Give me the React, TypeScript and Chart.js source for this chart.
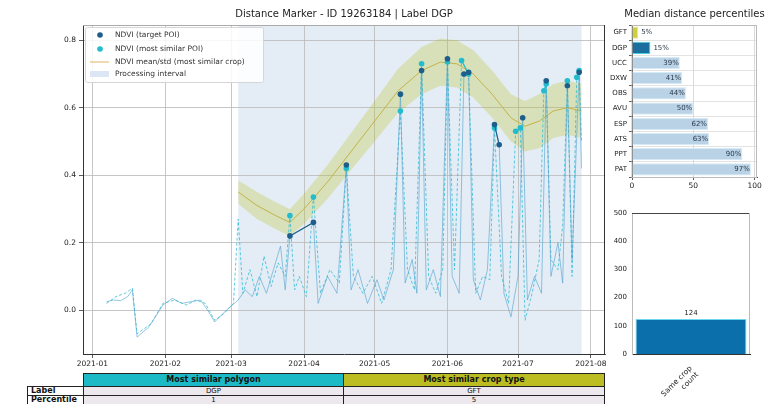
import React, { useEffect, useRef } from "react";
import { Chart, registerables } from "chart.js";

Chart.register(...registerables);

const FONT = "'DejaVu Sans', sans-serif";
Chart.defaults.font.family = FONT;

// ---------- main chart data (x = day of year 2021, 0 = Jan 1) ----------
const monthTickDays = [0, 31, 59, 90, 120, 151, 181, 212];
const monthTickLabels = ["2021-01", "2021-02", "2021-03", "2021-04", "2021-05", "2021-06", "2021-07", "2021-08"];
const yTickValues = [0, 0.2, 0.4, 0.6, 0.8];
const intervalStart = 62;
const intervalEnd = 208;

const targetDays = [6, 9, 12, 15, 17, 19, 24, 30, 34, 38, 42, 46, 49, 52, 57, 62, 65, 68, 71, 74, 77, 80, 82, 84, 94, 96, 100, 104, 108, 110, 113, 117, 121, 124, 128, 131, 133, 136, 138, 140, 142, 145, 148, 151, 153, 156, 158, 160, 162, 165, 168, 171, 173, 175, 178, 181, 183, 185, 188, 191, 193, 195, 198, 200, 202, 204, 207, 208];
const targetValues = [0.025, 0.03, 0.028, 0.04, 0.06, -0.08, -0.05, 0.015, 0.035, 0.02, 0.025, 0.03, 0.0, -0.035, 0.0, 0.03, 0.06, 0.04, 0.1, 0.05, 0.12, 0.19, 0.06, 0.22, 0.26, 0.02, 0.1, 0.05, 0.43, 0.06, 0.12, 0.02, 0.09, 0.03, 0.12, 0.64, 0.08, 0.15, 0.05, 0.71, 0.06, 0.12, 0.04, 0.745, 0.1, 0.05, 0.7, 0.705, 0.09, 0.03, 0.12, 0.55, 0.49, 0.05, -0.02, 0.1, 0.57, 0.03, 0.1, 0.05, 0.68, 0.1, 0.2, 0.08, 0.665, 0.15, 0.705, 0.42];
const targetValid = [0, 0, 0, 0, 0, 0, 0, 0, 0, 0, 0, 0, 0, 0, 0, 0, 0, 0, 0, 0, 0, 0, 0, 1, 1, 0, 0, 0, 1, 0, 0, 0, 0, 0, 0, 1, 0, 0, 0, 1, 0, 0, 0, 1, 0, 0, 1, 1, 0, 0, 0, 1, 1, 0, 0, 0, 1, 0, 0, 0, 1, 0, 0, 0, 1, 0, 1, 0];

const similarDays = [6, 10, 14, 17, 19, 25, 30, 35, 40, 44, 48, 52, 56, 60, 62, 64, 67, 70, 73, 76, 79, 82, 84, 86, 88, 91, 94, 97, 101, 105, 108, 111, 115, 119, 123, 127, 131, 134, 137, 140, 143, 146, 149, 151, 154, 157, 160, 163, 166, 169, 171, 174, 177, 180, 182, 184, 187, 190, 192, 193, 195, 198, 200, 202, 204, 206, 207, 208];
const similarValues = [0.02, 0.04, 0.05, 0.065, -0.07, -0.04, 0.02, 0.03, 0.015, 0.03, 0.02, -0.03, -0.01, 0.02, 0.27, 0.05, 0.12, 0.04, 0.16, 0.07, 0.14, 0.1, 0.28, 0.06, 0.1, 0.04, 0.335, 0.05, 0.12, 0.08, 0.42, 0.1, 0.05, 0.1, 0.02, 0.12, 0.59, 0.12, 0.06, 0.73, 0.1, 0.05, 0.12, 0.735, 0.12, 0.74, 0.7, 0.05, 0.1, 0.09, 0.54, 0.1, 0.02, 0.53, 0.54, -0.03, 0.05, 0.15, 0.65, 0.67, 0.15, 0.12, 0.25, 0.68, 0.1, 0.69, 0.71, 0.5];
const similarValid = [0, 0, 0, 0, 0, 0, 0, 0, 0, 0, 0, 0, 0, 0, 0, 0, 0, 0, 0, 0, 0, 0, 1, 0, 0, 0, 1, 0, 0, 0, 1, 0, 0, 0, 0, 0, 1, 0, 0, 1, 0, 0, 0, 1, 0, 1, 1, 0, 0, 0, 1, 0, 0, 1, 1, 0, 0, 0, 1, 1, 0, 0, 0, 1, 0, 1, 1, 0];

const cropDays = [62, 70, 78, 84, 90, 100, 110, 120, 130, 140, 148, 155, 162, 170, 178, 184, 190, 196, 202, 208];
const cropMean = [0.35, 0.31, 0.28, 0.26, 0.3, 0.38, 0.47, 0.56, 0.65, 0.71, 0.735, 0.73, 0.7, 0.64, 0.57, 0.545, 0.56, 0.59, 0.6, 0.59];
const cropStd = [0.035, 0.04, 0.04, 0.04, 0.045, 0.05, 0.055, 0.06, 0.065, 0.07, 0.07, 0.07, 0.07, 0.07, 0.07, 0.075, 0.08, 0.08, 0.08, 0.08];

// ---------- percentile chart data ----------
const pctCategories = ["GFT", "DGP", "UCC", "DXW", "OBS", "AVU", "ESP", "ATS", "PPT", "PAT"];
const pctValues = [5, 15, 39, 41, 44, 50, 62, 63, 90, 97];
const pctTicks = [0, 50, 100];

// ---------- count chart data ----------
const countCategories = [["Same crop", "count"]];
const countValues = [124];

// ---------- table data ----------
const tableColumns = ["Most similar polygon", "Most similar crop type"];
const tableRows = ["Label", "Percentile"];
const tablePolygon = ["DGP", "1"];
const tableCropType = ["GFT", "5"];

// ---------- colours ----------
const C_TARGET_MARK = "#1d5f8a";
const C_SIMILAR_MARK = "#22bccd";
const C_TARGET_LINE = "rgba(80,160,205,0.6)";
const C_SIMILAR_LINE = "rgba(40,185,210,0.75)";
const C_MEAN = "#c4b347";
const C_BAND = "rgba(188,189,34,0.28)";
const C_INTERVAL = "#e4edf6";

const pts = (xs: number[], ys: number[]) => xs.map((x, i) => ({ x, y: ys[i] }));
const masked = (xs: number[], ys: number[], m: number[]) => xs.map((x, i) => ({ x, y: m[i] ? ys[i] : null }));

const tickFont = { size: 7.5, family: FONT };

function mainConfig(): any {
  const shadePlugin = {
    id: "shade",
    beforeDraw(chart: any) {
      const { ctx, chartArea } = chart;
      const xs = chart.scales.x;
      const x1 = xs.getPixelForValue(intervalStart);
      const x2 = xs.getPixelForValue(intervalEnd);
      ctx.save();
      ctx.fillStyle = C_INTERVAL;
      ctx.fillRect(x1, chartArea.top, x2 - x1, chartArea.bottom - chartArea.top);
      ctx.restore();
    },
  };
  const decoPlugin = {
    id: "deco",
    afterDraw(chart: any) {
      const { ctx, chartArea: a } = chart;
      ctx.save();
      // spines
      ctx.strokeStyle = "#aaa";
      ctx.lineWidth = 1;
      ctx.beginPath();
      ctx.moveTo(a.left, a.top + 0.5);
      ctx.lineTo(a.right, a.top + 0.5);
      ctx.stroke();
      ctx.strokeStyle = "#333";
      ctx.beginPath();
      ctx.moveTo(a.right - 0.5, a.top);
      ctx.lineTo(a.right - 0.5, a.bottom);
      ctx.stroke();
      // title
      ctx.fillStyle = "#222";
      ctx.font = `10px ${FONT}`;
      ctx.textAlign = "center";
      ctx.textBaseline = "middle";
      ctx.fillText("Distance Marker - ID 19263184 | Label DGP", (a.left + a.right) / 2, 14);
      // legend
      const bx = a.left + 2, by = a.top + 2, bw = 178, bh = 55;
      ctx.fillStyle = "rgba(255,255,255,0.85)";
      ctx.strokeStyle = "#d6d6d6";
      ctx.beginPath();
      ctx.roundRect(bx + 0.5, by + 0.5, bw, bh, 2);
      ctx.fill();
      ctx.stroke();
      const rowsY = [by + 8, by + 22, by + 35, by + 47];
      const sx = bx + 15;
      ctx.fillStyle = C_TARGET_MARK;
      ctx.beginPath(); ctx.arc(sx, rowsY[0], 2.8, 0, Math.PI * 2); ctx.fill();
      ctx.fillStyle = C_SIMILAR_MARK;
      ctx.beginPath(); ctx.arc(sx, rowsY[1], 2.8, 0, Math.PI * 2); ctx.fill();
      ctx.strokeStyle = "#e2c178";
      ctx.lineWidth = 1.2;
      ctx.beginPath(); ctx.moveTo(bx + 5, rowsY[2]); ctx.lineTo(bx + 24, rowsY[2]); ctx.stroke();
      ctx.fillStyle = "#dbe7f4";
      ctx.fillRect(bx + 5, rowsY[3] - 3, 19, 6);
      ctx.fillStyle = "#333";
      ctx.font = `7.5px ${FONT}`;
      ctx.textAlign = "left";
      const labels = ["NDVI (target POI)", "NDVI (most similar POI)", "NDVI mean/std (most similar crop)", "Processing interval"];
      labels.forEach((t, i) => ctx.fillText(t, bx + 30, rowsY[i]));
      ctx.restore();
    },
  };
  return {
    type: "line",
    data: {
      datasets: [
        {
          label: "NDVI (target POI) markers",
          data: masked(targetDays, targetValues, targetValid),
          borderColor: C_TARGET_MARK,
          backgroundColor: C_TARGET_MARK,
          borderWidth: 1.2,
          pointRadius: 2.8,
          pointBorderWidth: 0,
          spanGaps: false,
        },
        {
          label: "NDVI (most similar POI) markers",
          data: masked(similarDays, similarValues, similarValid),
          borderColor: C_SIMILAR_MARK,
          backgroundColor: C_SIMILAR_MARK,
          borderWidth: 1.2,
          pointRadius: 2.8,
          pointBorderWidth: 0,
          spanGaps: false,
        },
        {
          label: "target",
          data: pts(targetDays, targetValues),
          borderColor: C_TARGET_LINE,
          borderWidth: 1,
          pointRadius: 0,
        },
        {
          label: "similar",
          data: pts(similarDays, similarValues),
          borderColor: C_SIMILAR_LINE,
          borderWidth: 1,
          borderDash: [3, 2],
          pointRadius: 0,
        },
        {
          label: "mean",
          data: pts(cropDays, cropMean),
          borderColor: C_MEAN,
          borderWidth: 1,
          pointRadius: 0,
        },
        {
          label: "upper",
          data: pts(cropDays, cropMean.map((m, i) => m + cropStd[i])),
          borderWidth: 0,
          borderColor: "rgba(0,0,0,0)",
          pointRadius: 0,
        },
        {
          label: "lower",
          data: pts(cropDays, cropMean.map((m, i) => m - cropStd[i])),
          borderWidth: 0,
          borderColor: "rgba(0,0,0,0)",
          backgroundColor: C_BAND,
          pointRadius: 0,
          fill: "-1",
        },
      ],
    },
    options: {
      animation: false,
      responsive: false,
      layout: { padding: { top: 25, right: 10, left: 0, bottom: 0 } },
      plugins: { legend: { display: false }, tooltip: { enabled: false }, title: { display: false } },
      elements: { line: { tension: 0 } },
      scales: {
        x: {
          type: "linear",
          min: -4,
          max: 218,
          afterBuildTicks: (s: any) => { s.ticks = monthTickDays.map((v) => ({ value: v })); },
          afterFit: (s: any) => { s.height = 18; },
          ticks: {
            callback: (v: number) => { const i = monthTickDays.indexOf(v); return i >= 0 ? monthTickLabels[i] : ""; },
            font: tickFont, color: "#222", padding: 2, maxRotation: 0, autoSkip: false,
          },
          grid: { color: "#b8b8b8", lineWidth: 0.8, tickLength: 4, tickColor: "#333" },
          border: { color: "#333", width: 1 },
        },
        y: {
          type: "linear",
          min: -0.13,
          max: 0.845,
          afterBuildTicks: (s: any) => { s.ticks = yTickValues.map((v) => ({ value: v })); },
          afterFit: (s: any) => { s.width = 83; },
          ticks: { callback: (v: number) => v.toFixed(1), font: tickFont, color: "#222", padding: 3 },
          grid: { color: "#b8b8b8", lineWidth: 0.8, tickLength: 4, tickColor: "#333" },
          border: { color: "#333", width: 1 },
        },
      },
    },
    plugins: [shadePlugin, decoPlugin],
  };
}

function pctConfig(): any {
  const bg = pctValues.map((_, i) => (i === 0 ? "#cfcf3e" : i === 1 ? "#1c6e9c" : "#b9d2e6"));
  const bd = pctValues.map((_, i) => (i === 0 ? "#ece58a" : i === 1 ? "#45cfe6" : "#d5eaf6"));
  const labelPlugin = {
    id: "pctLabels",
    afterDatasetsDraw(chart: any) {
      const { ctx, chartArea: a } = chart;
      const meta = chart.getDatasetMeta(0);
      ctx.save();
      ctx.font = `7px ${FONT}`;
      ctx.fillStyle = "#2a3a4a";
      ctx.textBaseline = "middle";
      meta.data.forEach((bar: any, i: number) => {
        const v = pctValues[i];
        if (v < 20) { ctx.textAlign = "left"; ctx.fillText(v + "%", bar.x + 3, bar.y); }
        else { ctx.textAlign = "right"; ctx.fillText(v + "%", bar.x - 1, bar.y); }
      });
      ctx.strokeStyle = "#bbb";
      ctx.lineWidth = 1;
      ctx.strokeRect(a.left, a.top + 0.5, a.right - a.left - 0.5, a.bottom - a.top);
      ctx.fillStyle = "#222";
      ctx.font = `10px ${FONT}`;
      ctx.textAlign = "center";
      ctx.fillText("Median distance percentiles", (a.left + a.right) / 2, 14);
      ctx.restore();
    },
  };
  return {
    type: "bar",
    data: {
      labels: pctCategories,
      datasets: [{ data: pctValues, backgroundColor: bg, borderColor: bd, borderWidth: 1, categoryPercentage: 1, barPercentage: 0.8 }],
    },
    options: {
      indexAxis: "y",
      animation: false,
      responsive: false,
      layout: { padding: { top: 25, right: 12, left: 0, bottom: 0 } },
      plugins: { legend: { display: false }, tooltip: { enabled: false } },
      scales: {
        x: {
          min: 0,
          max: 102,
          afterBuildTicks: (s: any) => { s.ticks = pctTicks.map((v) => ({ value: v })); },
          afterFit: (s: any) => { s.height = 23; },
          ticks: { font: tickFont, color: "#222", padding: 2 },
          grid: { color: "#d0d0d0", lineWidth: 0.8, tickLength: 3, tickColor: "#333" },
          border: { color: "#333" },
        },
        y: {
          afterFit: (s: any) => { s.width = 22; },
          ticks: { font: { size: 7, family: FONT }, color: "#222", padding: 2, autoSkip: false },
          grid: { color: "#dcdcdc", lineWidth: 0.8, tickLength: 3, tickColor: "#333" },
          border: { color: "#333" },
        },
      },
    },
    plugins: [labelPlugin],
  };
}

function countConfig(): any {
  const labelPlugin = {
    id: "countLabels",
    afterDatasetsDraw(chart: any) {
      const { ctx, chartArea: a } = chart;
      const meta = chart.getDatasetMeta(0);
      ctx.save();
      ctx.font = `7px ${FONT}`;
      ctx.fillStyle = "#222";
      ctx.textAlign = "center";
      ctx.textBaseline = "bottom";
      meta.data.forEach((bar: any, i: number) => ctx.fillText(String(countValues[i]), bar.x, bar.y - 2));
      ctx.strokeStyle = "#444";
      ctx.lineWidth = 1;
      ctx.beginPath(); ctx.moveTo(a.left, a.top + 0.5); ctx.lineTo(a.right, a.top + 0.5); ctx.stroke();
      ctx.strokeStyle = "#bbb";
      ctx.beginPath(); ctx.moveTo(a.right - 0.5, a.top); ctx.lineTo(a.right - 0.5, a.bottom); ctx.stroke();
      ctx.restore();
    },
  };
  return {
    type: "bar",
    data: {
      labels: countCategories,
      datasets: [{ data: countValues, backgroundColor: "#0b6fab", borderColor: "#6fd6ef", borderWidth: 1, categoryPercentage: 1, barPercentage: 0.94 }],
    },
    options: {
      animation: false,
      responsive: false,
      layout: { padding: { top: 13, right: 19, left: 0, bottom: 0 } },
      plugins: { legend: { display: false }, tooltip: { enabled: false } },
      scales: {
        x: {
          afterFit: (s: any) => { s.height = 50; },
          ticks: { font: tickFont, color: "#222", minRotation: 45, maxRotation: 45, padding: 2 },
          grid: { display: false },
          border: { color: "#333" },
        },
        y: {
          min: 0,
          max: 500,
          afterFit: (s: any) => { s.width = 27; },
          ticks: { stepSize: 100, font: { size: 7, family: FONT }, color: "#222", padding: 2 },
          grid: { display: false, drawTicks: true, tickLength: 3 },
          border: { color: "#bbb" },
        },
      },
    },
    plugins: [labelPlugin],
  };
}

function Cell(props: { x: number; y: number; w: number; h: number; bg: string; text: string; bold?: boolean; align?: "left" | "center"; size?: number }) {
  const { x, y, w, h, bg, text, bold, align, size } = props;
  return (
    <div
      style={{
        position: "absolute", left: x, top: y, width: w, height: h, boxSizing: "border-box",
        background: bg, border: "1px solid #222", fontFamily: FONT, fontSize: size ?? 7.5,
        fontWeight: bold ? 700 : 400, color: "#111", textAlign: align ?? "center",
        lineHeight: `${h - 2}px`, paddingLeft: align === "left" ? 3 : 0, overflow: "hidden", whiteSpace: "nowrap",
      }}
    >
      {text}
    </div>
  );
}

export default function App() {
  const mainRef = useRef<HTMLCanvasElement>(null);
  const pctRef = useRef<HTMLCanvasElement>(null);
  const cntRef = useRef<HTMLCanvasElement>(null);

  useEffect(() => {
    const charts = [
      new Chart(mainRef.current!, mainConfig()),
      new Chart(pctRef.current!, pctConfig()),
      new Chart(cntRef.current!, countConfig()),
    ];
    return () => charts.forEach((c) => c.destroy());
  }, []);

  const colX = [83, 343];
  const colW = [261, 262];
  const colBg = ["#1cb9c7", "#bcbd22"];
  const colVals = [tablePolygon, tableCropType];
  const rowY = [386, 395];

  return (
    <div style={{ position: "absolute", left: 0, top: 0, width: 769, height: 404, background: "#fff", overflow: "hidden" }}>
      <canvas ref={mainRef} width={615} height={372} style={{ position: "absolute", left: 0, top: 0, width: 615, height: 372 }} />
      <canvas ref={pctRef} width={159} height={200} style={{ position: "absolute", left: 610, top: 0, width: 159, height: 200 }} />
      <canvas ref={cntRef} width={164} height={204} style={{ position: "absolute", left: 605, top: 200, width: 164, height: 204 }} />
      {tableColumns.map((c, i) => (
        <Cell key={"h" + i} x={colX[i]} y={373} w={colW[i]} h={14} bg={colBg[i]} text={c} bold size={8} />
      ))}
      {tableRows.map((r, ri) => (
        <React.Fragment key={"r" + ri}>
          <Cell x={27} y={rowY[ri]} w={57} h={10} bg="#fff" text={r} bold align="left" size={8} />
          {colVals.map((vals, ci) => (
            <Cell key={ci} x={colX[ci]} y={rowY[ri]} w={colW[ci]} h={10} bg="#ece8ee" text={vals[ri]} size={7} />
          ))}
        </React.Fragment>
      ))}
    </div>
  );
}
